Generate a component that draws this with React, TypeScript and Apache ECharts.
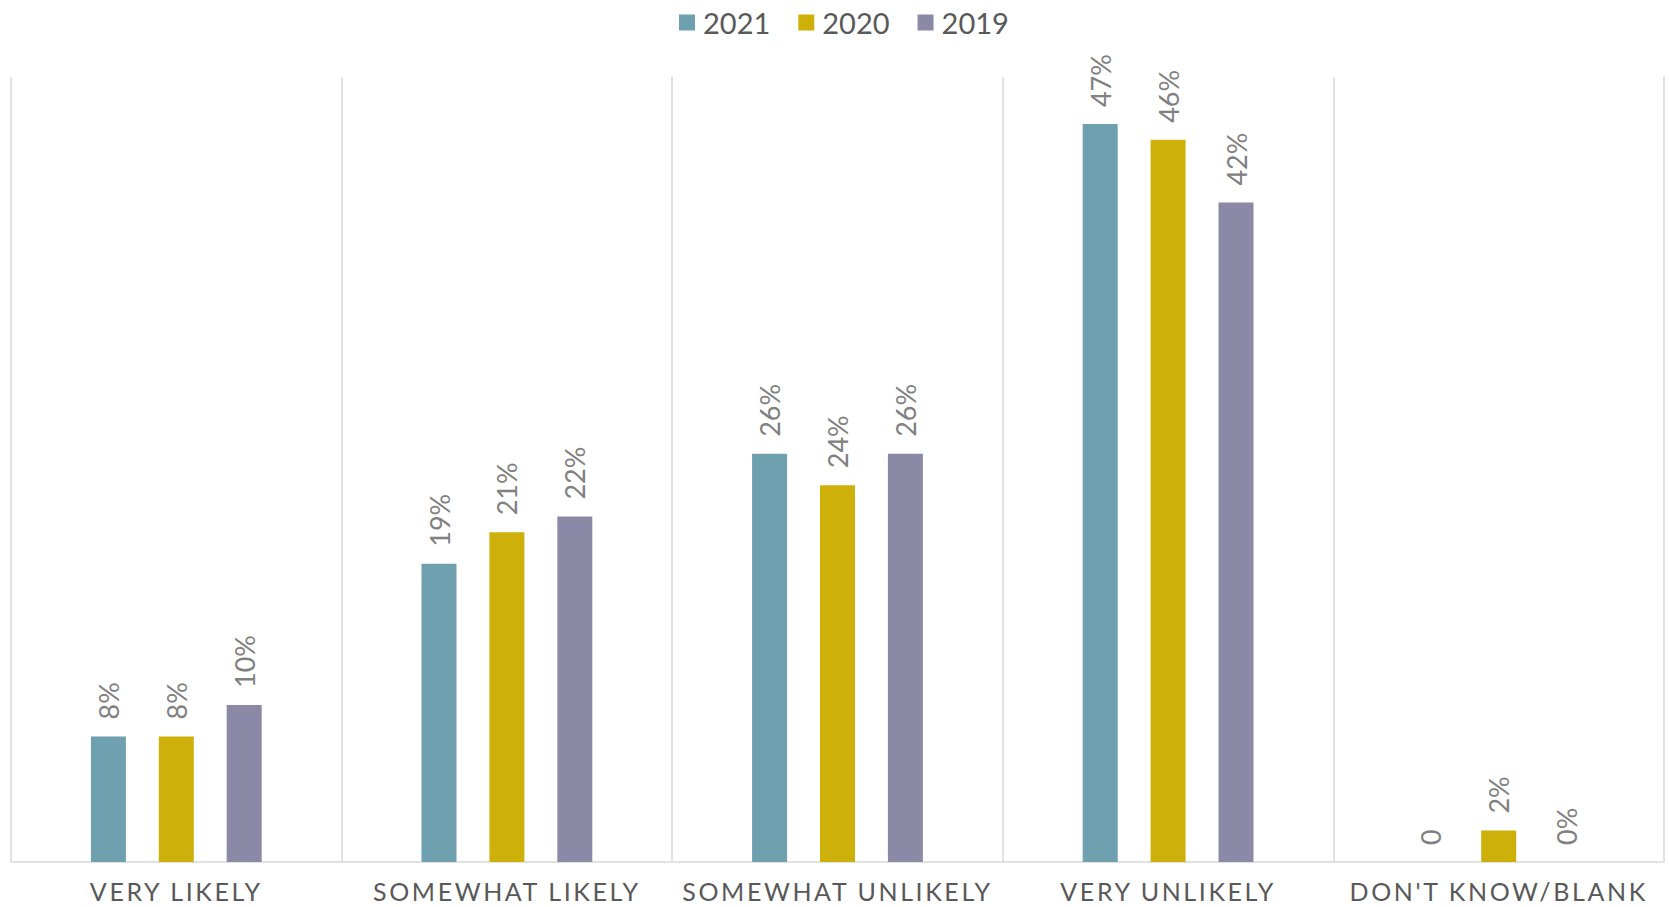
import React, { useEffect, useRef } from "react";
import * as echarts from "echarts";

const categories = ["VERY LIKELY", "SOMEWHAT LIKELY", "SOMEWHAT UNLIKELY", "VERY UNLIKELY", "DON'T KNOW/BLANK"];
const seriesNames = ["2021", "2020", "2019"];
const values2021 = [8, 19, 26, 47, 0];
const values2020 = [8, 21, 24, 46, 2];
const values2019 = [10, 22, 26, 42, 0];
const labels2021 = ["8%", "19%", "26%", "47%", "0"];
const labels2020 = ["8%", "21%", "24%", "46%", "2%"];
const labels2019 = ["10%", "22%", "26%", "42%", "0%"];
const colors = ["#6FA0B0", "#CDB00A", "#8C89A6"];

export default function App() {
  const ref = useRef<HTMLDivElement>(null);
  useEffect(() => {
    if (!ref.current) return;
    const chart = echarts.init(ref.current, undefined, { renderer: "svg" });
    const allValues = [values2021, values2020, values2019];
    const allLabels = [labels2021, labels2020, labels2019];
    chart.setOption({
      animation: false,
      legend: {
        data: seriesNames,
        top: 3,
        left: 674,
        itemWidth: 16,
        itemHeight: 16,
        itemGap: 28,
        icon: "rect",
        textStyle: { fontFamily: "Lato", fontSize: 29, color: "#595959", padding: [0, 0, 0, 3] },
      },
      grid: { left: 11, right: 5, top: 77, bottom: 45, containLabel: false },
      xAxis: {
        type: "category",
        data: categories,
        axisLine: { show: true, lineStyle: { color: "#D9D9D9", width: 1.5 } },
        axisTick: { show: false },
        splitLine: { show: true, lineStyle: { color: "#D9D9D9", width: 1.5 } },
        axisLabel: {
          margin: 16,
          fontFamily: "Lato, 'DejaVu Sans'",
          fontSize: 25,
          color: "#595959",
          interval: 0,
        },
      },
      yAxis: {
        type: "value",
        min: 0,
        max: 50,
        show: false,
        splitLine: { show: false },
      },
      series: seriesNames.map((name, i) => ({
        name,
        type: "bar",
        data: allValues[i],
        barWidth: 35,
        barGap: "94%",
        itemStyle: { color: colors[i] },
        label: {
          show: true,
          position: "top",
          rotate: 90,
          align: "left",
          verticalAlign: "middle",
          distance: 17,
          fontFamily: "Lato",
          fontSize: 27,
          color: "#808080",
          formatter: (p: any) => allLabels[i][p.dataIndex],
        },
      })),
    });
    return () => chart.dispose();
  }, []);
  return (
    <>
      <style>{`text[style*="DejaVu"], text[font-family*="DejaVu"] { letter-spacing: 2.6px; }`}</style>
      <div
        ref={ref}
        style={{ position: "fixed", left: 0, top: 0, width: 1669, height: 907, background: "#fff" }}
      />
    </>
  );
}
